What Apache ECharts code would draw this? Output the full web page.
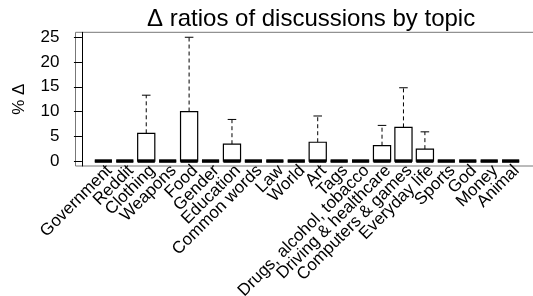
<!DOCTYPE html>
<html>
<head>
<meta charset="utf-8">
<script src="https://cdn.jsdelivr.net/npm/echarts@6/dist/echarts.min.js"></script>
<style>
html,body{margin:0;padding:0;background:#fff;}
#chart{width:533px;height:296px;}
</style>
</head>
<body>
<div id="chart"></div>
<script>
const categories = ["Government","Reddit","Clothing","Weapons","Food","Gender","Education","Common words","Law","World","Art","Tags","Drugs, alcohol, tobacco","Driving & healthcare","Computers & games","Everyday life","Sports","God","Money","Animal"];
const whiskerLow = [0,0,0,0,0,0,0,0,0,0,0,0,0,0,0,0,0,0,0,0];
const q1 = [0,0,0,0,0,0,0,0,0,0,0,0,0,0,0,0,0,0,0,0];
const median = [0,0,0,0,0,0,0,0,0,0,0,0,0,0,0,0,0,0,0,0];
const q3 = [0,0,5.6,0,10.0,0,3.4,0,0,0,3.8,0,0,3.1,6.8,2.4,0,0,0,0];
const whiskerHigh = [0,0,13.3,0,25.0,0,8.4,0,0,0,9.1,0,0,7.2,14.8,5.9,0,0,0,0];
const yTicks = [0,5,10,15,20,25];

const data = categories.map((c,i)=>[i+1, whiskerLow[i], q1[i], median[i], q3[i], whiskerHigh[i]]);
const FONT = "'Liberation Sans', Arial, Helvetica, sans-serif";
// label positions: one per category, plus a hidden pad value at each end
const xLabelValues = [0].concat(categories.map((c,i)=>i+1), [categories.length+1]);

function renderItem(params, api){
  const x = api.value(0);
  const w = api.size([0.8, 0])[0];
  const pLow = api.coord([x, api.value(1)]);
  const pQ1 = api.coord([x, api.value(2)]);
  const pMed = api.coord([x, api.value(3)]);
  const pQ3 = api.coord([x, api.value(4)]);
  const pHigh = api.coord([x, api.value(5)]);
  const cx = pMed[0];
  const dash = {stroke:'#000', lineWidth:1, lineDash:[4,3]};
  const solid = {stroke:'#000', lineWidth:1};
  const children = [];
  if (pHigh[1] < pQ3[1]) {
    children.push({type:'line', shape:{x1:cx,y1:pQ3[1],x2:cx,y2:pHigh[1]}, style:dash});
  }
  if (pLow[1] > pQ1[1]) {
    children.push({type:'line', shape:{x1:cx,y1:pQ1[1],x2:cx,y2:pLow[1]}, style:dash});
  }
  children.push({type:'line', shape:{x1:cx-w/4,y1:pHigh[1],x2:cx+w/4,y2:pHigh[1]}, style:solid});
  children.push({type:'line', shape:{x1:cx-w/4,y1:pLow[1],x2:cx+w/4,y2:pLow[1]}, style:solid});
  children.push({type:'rect', shape:{x:cx-w/2, y:pQ3[1], width:w, height:pQ1[1]-pQ3[1]}, style:{fill:'#fff', stroke:'#000', lineWidth:1.2}});
  children.push({type:'line', shape:{x1:cx-w/2,y1:pMed[1],x2:cx+w/2,y2:pMed[1]}, style:{stroke:'#000', lineWidth:3.5}});
  return {type:'group', children};
}

const chart = echarts.init(document.getElementById('chart'), null, {renderer:'canvas'});
chart.setOption({
  animation:false,
  backgroundColor:'#fff',
  title:{
    text:'\u0394 ratios of discussions by topic',
    left:142, top:2,
    textStyle:{fontFamily:FONT, fontSize:24, fontWeight:'normal', color:'#000'}
  },
  grid:{left:75.5, top:32.3, width:463, height:133.7, show:true, borderColor:'#777', borderWidth:1, backgroundColor:'transparent', containLabel:false, outerBoundsMode:'none'},
  xAxis:{
    type:'value', min:-0.3, max:21.3,
    axisLine:{show:false}, axisTick:{show:false}, splitLine:{show:false},
    axisLabel:{
      customValues: xLabelValues,
      formatter: v => categories[Math.round(v)-1] || ' ',
      rotate:45, margin:-4, verticalAlign:'top', hideOverlap:false, showMinLabel:false, showMaxLabel:false,
      fontFamily:FONT, fontSize:17, color:'#000'
    }
  },
  yAxis:{
    type:'value', min:-1, max:26,
    name:'% \u0394', nameLocation:'middle', nameGap:48, nameRotate:90,
    nameTextStyle:{fontFamily:FONT, fontSize:17, color:'#000'},
    axisLine:{show:true, lineStyle:{color:'#000', width:1}},
    axisTick:{show:true, length:8, customValues:yTicks, lineStyle:{color:'#000'}},
    splitLine:{show:false},
    axisLabel:{customValues:yTicks, margin:16, fontFamily:FONT, fontSize:17, color:'#000'}
  },
  series:[{
    type:'custom',
    renderItem: renderItem,
    data: data,
    encode:{x:0, y:[1,2,3,4,5]},
    clip:false
  }]
});
</script>
</body>
</html>
